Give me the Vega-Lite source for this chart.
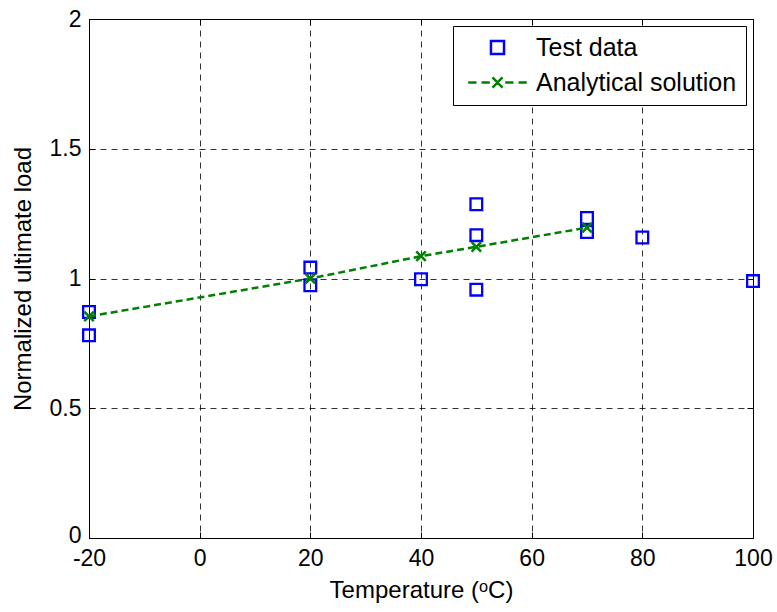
{
  "$schema": "https://vega.github.io/schema/vega-lite/v6.json",
  "width": 664,
  "height": 519,
  "autosize": {"type": "none"},
  "padding": {"left": 89, "top": 19, "right": 24, "bottom": 74},
  "background": "white",
  "config": {
    "view": {"stroke": "black", "strokeWidth": 1},
    "font": "Liberation Sans",
    "axis": {
      "domainColor": "black",
      "tickColor": "black",
      "labelColor": "black",
      "titleColor": "black",
      "labelFont": "Liberation Sans",
      "titleFont": "Liberation Sans",
      "labelFontSize": 23,
      "titleFontSize": 24,
      "titleFontWeight": "normal",
      "labelFlush": false,
      "gridColor": "black",
      "gridOpacity": 0.8,
      "gridDash": [6, 5],
      "gridWidth": 1
    }
  },
  "data": {
    "values": [
      {"T": -20, "load": 0.871, "series": "Test data"},
      {"T": -20, "load": 0.781, "series": "Test data"},
      {"T": 20, "load": 1.042, "series": "Test data"},
      {"T": 20, "load": 0.974, "series": "Test data"},
      {"T": 40, "load": 0.997, "series": "Test data"},
      {"T": 50, "load": 1.286, "series": "Test data"},
      {"T": 50, "load": 1.167, "series": "Test data"},
      {"T": 50, "load": 0.957, "series": "Test data"},
      {"T": 70, "load": 1.233, "series": "Test data"},
      {"T": 70, "load": 1.179, "series": "Test data"},
      {"T": 80, "load": 1.158, "series": "Test data"},
      {"T": 100, "load": 0.99, "series": "Test data"},
      {"T": -20, "load": 0.854, "series": "Analytical solution"},
      {"T": 20, "load": 1.0, "series": "Analytical solution"},
      {"T": 40, "load": 1.086, "series": "Analytical solution"},
      {"T": 50, "load": 1.122, "series": "Analytical solution"},
      {"T": 70, "load": 1.196, "series": "Analytical solution"}
    ]
  },
  "resolve": {"axis": {"x": "independent", "y": "independent"}},
  "layer": [
    {
      "transform": [{"filter": "datum.series === 'Test data'"}],
      "mark": {"type": "point", "filled": false, "strokeWidth": 2.3, "size": 180, "opacity": 1},
      "encoding": {
        "x": {
          "field": "T", "type": "quantitative",
          "scale": {"domain": [-20, 100], "nice": false, "zero": false},
          "axis": {
            "title": "Temperature (ᵒC)",
            "values": [-20, 0, 20, 40, 60, 80, 100],
            "grid": true,
            "tickSize": -6,
            "labelPadding": 15,
            "titlePadding": 8,
            "labelExpr": "'' + datum.value"
          }
        },
        "y": {
          "field": "load", "type": "quantitative",
          "scale": {"domain": [0, 2], "nice": false, "zero": true},
          "axis": {
            "title": "Normalized ultimate load",
            "values": [0, 0.5, 1, 1.5, 2],
            "grid": true,
            "tickSize": -6,
            "labelPadding": 14,
            "titlePadding": 14,
            "labelOffset": {"condition": {"test": "datum.value === 0", "value": -3}, "value": 0},
            "labelExpr": "'' + datum.value"
          }
        },
        "color": {
          "field": "series", "type": "nominal",
          "scale": {"domain": ["Test data", "Analytical solution"], "range": ["#0000ff", "#008000"]},
          "legend": {
            "title": null,
            "orient": "top-right",
            "offset": 7,
            "strokeColor": "black",
            "fillColor": "white",
            "padding": 9,
            "symbolOffset": 23,
            "labelOffset": 26,
            "rowPadding": 9,
            "labelFont": "Liberation Sans",
            "labelFontSize": 25,
            "labelColor": "black",
            "labelLimit": 400,
            "symbolSize": 225,
            "symbolStrokeWidth": 2.5
          }
        },
        "shape": {
          "field": "series", "type": "nominal",
          "scale": {
            "domain": ["Test data", "Analytical solution"],
            "range": [
              "M-0.87,-0.87H0.87V0.87H-0.87Z",
              "M-3.9,0H-2.8M-2.13,0H-1.03M1.03,0H2.13M2.8,0H3.9M-0.67,-0.67L0.67,0.67M-0.67,0.67L0.67,-0.67"
            ]
          },
          "legend": {
            "title": null,
            "orient": "top-right",
            "offset": 7,
            "strokeColor": "black",
            "fillColor": "white",
            "padding": 9,
            "symbolOffset": 23,
            "labelOffset": 26,
            "rowPadding": 9,
            "labelFont": "Liberation Sans",
            "labelFontSize": 25,
            "labelColor": "black",
            "labelLimit": 400,
            "symbolSize": 225,
            "symbolStrokeWidth": 2.5
          }
        }
      }
    },
    {
      "transform": [{"filter": "datum.series === 'Analytical solution'"}],
      "mark": {"type": "line", "color": "#008000", "strokeDash": [7, 4], "strokeWidth": 2.5},
      "encoding": {
        "x": {"field": "T", "type": "quantitative", "axis": null},
        "y": {"field": "load", "type": "quantitative", "axis": null}
      }
    },
    {
      "transform": [{"filter": "datum.series === 'Analytical solution'"}],
      "mark": {"type": "point", "shape": "M-1,-1L1,1M-1,1L1,-1", "filled": false, "color": "#008000", "strokeWidth": 2.5, "size": 90, "opacity": 1},
      "encoding": {
        "x": {
          "field": "T", "type": "quantitative",
          "axis": {"orient": "top", "values": [-20, 0, 20, 40, 60, 80, 100], "labels": false, "title": null, "grid": false, "tickSize": -6, "domain": true}
        },
        "y": {
          "field": "load", "type": "quantitative",
          "axis": {"orient": "right", "values": [0, 0.5, 1, 1.5, 2], "labels": false, "title": null, "grid": false, "tickSize": -6, "domain": true}
        }
      }
    }
  ]
}
